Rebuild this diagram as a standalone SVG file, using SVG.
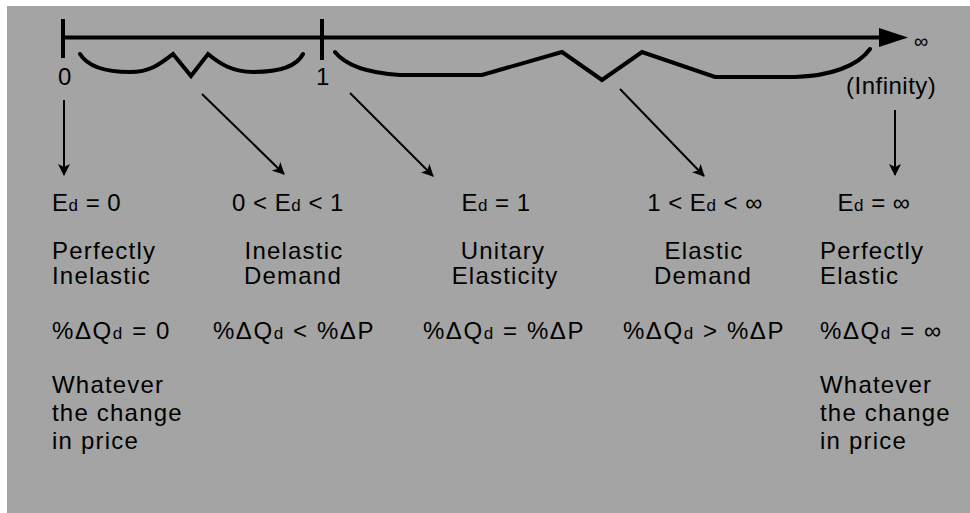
<svg xmlns="http://www.w3.org/2000/svg" width="970" height="513" viewBox="0 0 970 513">
  <style>
    .bg { fill: #a4a4a4; }
    .axis { stroke: #000; stroke-width: 4; fill: none; }
    .brace { stroke: #000; stroke-width: 4; fill: none; stroke-linejoin: miter; stroke-linecap: round; }
    .conn { stroke: #000; stroke-width: 2; fill: none; }
    text { font-family: "Liberation Sans", Arial, sans-serif; font-size: 24px; fill: #000; letter-spacing: 1.2px; }
    .eq { letter-spacing: 0.5px; }
    .pct { letter-spacing: 1.6px; }
    .mid { text-anchor: middle; }
    .sub { font-size: 17px; }
  </style>
  <defs>
    <marker id="head" viewBox="0 0 12 12" refX="11" refY="6" markerWidth="12" markerHeight="12" markerUnits="userSpaceOnUse" orient="auto">
      <path d="M0,0 L12,6 L0,12 L3,6 Z" fill="#000"/>
    </marker>
  </defs>

  <!-- panel background -->
  <rect class="bg" x="7" y="6" width="963" height="507"/>

  <!-- elasticity scale: 0 to infinity -->
  <g id="scale">
    <line class="axis" x1="63" y1="37.5" x2="882" y2="37.5"/>
    <polygon points="879,28 908,37.5 879,47" fill="#000"/>
    <line class="axis" x1="63" y1="19" x2="63" y2="58"/>
    <line class="axis" x1="322" y1="19" x2="322" y2="60"/>
    <text x="65" y="85" class="mid eq">0</text>
    <text x="323" y="85" class="mid eq">1</text>
    <text x="914" y="48" class="eq" style="font-size:20px">∞</text>
    <text x="846" y="94" class="eq">(Infinity)</text>
  </g>

  <!-- range braces -->
  <g id="brace-inelastic">
    <path class="brace" d="M80,54 C88,67 108,72 130,72 C150,72 160,64 173,54 L191,76 L208,54 C220,64 233,72 253,72 C276,72 296,68 303,54"/>
  </g>
  <g id="brace-elastic">
    <path class="brace" d="M335,52 C346,66 368,73 400,75 L482,75 L562,52 L602,80 L642,52 L715,77 L795,77 C830,76 858,66 870,49"/>
  </g>

  <!-- pointers from the scale to each case -->
  <g id="connectors">
    <line class="conn" x1="64" y1="100" x2="64" y2="175" marker-end="url(#head)"/>
    <line class="conn" x1="202" y1="94" x2="284" y2="174" marker-end="url(#head)"/>
    <line class="conn" x1="350" y1="93" x2="433" y2="176" marker-end="url(#head)"/>
    <line class="conn" x1="620" y1="89" x2="704" y2="176" marker-end="url(#head)"/>
    <line class="conn" x1="895" y1="110" x2="895" y2="175" marker-end="url(#head)"/>
  </g>

  <!-- cases -->
  <g id="perfectly-inelastic">
    <text x="52" y="211" class="eq">E<tspan class="sub">d</tspan> = 0</text>
    <text x="52" y="259">Perfectly</text>
    <text x="52" y="284">Inelastic</text>
    <text x="52" y="339" class="pct">%ΔQ<tspan class="sub">d</tspan> = 0</text>
    <text x="52" y="393">Whatever</text>
    <text x="52" y="421">the change</text>
    <text x="52" y="449">in price</text>
  </g>

  <g id="inelastic-demand">
    <text x="288" y="211" class="mid eq">0 &lt; E<tspan class="sub">d</tspan> &lt; 1</text>
    <text x="294" y="259" class="mid">Inelastic</text>
    <text x="293" y="284" class="mid">Demand</text>
    <text x="294" y="339" class="mid pct">%ΔQ<tspan class="sub">d</tspan> &lt; %ΔP</text>
  </g>

  <g id="unitary-elasticity">
    <text x="496" y="211" class="mid eq">E<tspan class="sub">d</tspan> = 1</text>
    <text x="503" y="259" class="mid">Unitary</text>
    <text x="505" y="284" class="mid">Elasticity</text>
    <text x="504" y="339" class="mid pct">%ΔQ<tspan class="sub">d</tspan> = %ΔP</text>
  </g>

  <g id="elastic-demand">
    <text x="705" y="211" class="mid eq">1 &lt; E<tspan class="sub">d</tspan> &lt; ∞</text>
    <text x="704" y="259" class="mid">Elastic</text>
    <text x="703" y="284" class="mid">Demand</text>
    <text x="704" y="339" class="mid pct">%ΔQ<tspan class="sub">d</tspan> &gt; %ΔP</text>
  </g>

  <g id="perfectly-elastic">
    <text x="874" y="211" class="mid eq">E<tspan class="sub">d</tspan> = ∞</text>
    <text x="820" y="259">Perfectly</text>
    <text x="820" y="284">Elastic</text>
    <text x="820" y="339" class="pct">%ΔQ<tspan class="sub">d</tspan> = ∞</text>
    <text x="820" y="393">Whatever</text>
    <text x="820" y="421">the change</text>
    <text x="820" y="449">in price</text>
  </g>
</svg>
